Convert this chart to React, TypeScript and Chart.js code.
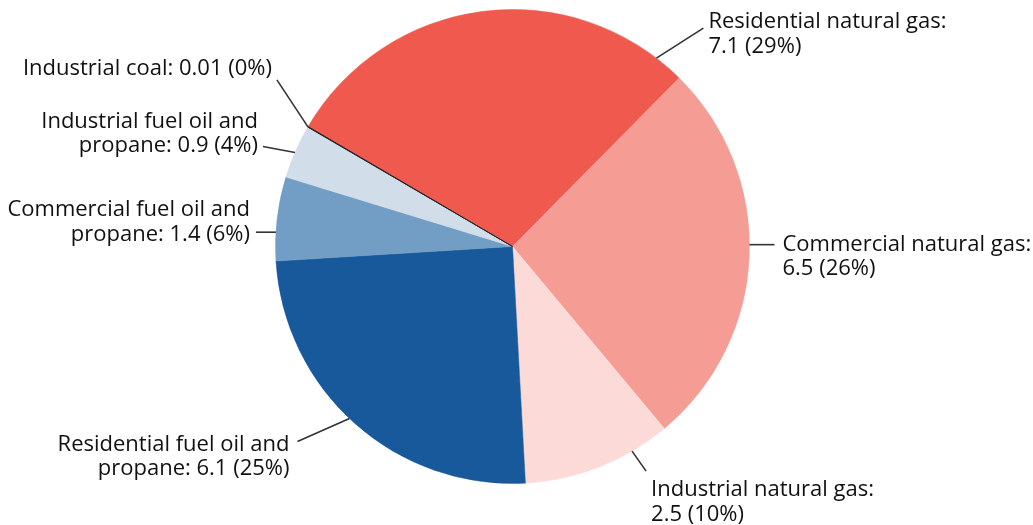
import React, { useEffect, useRef } from "react";
import { Chart, registerables } from "chart.js";

Chart.register(...registerables);

const categories = [
  "Residential natural gas",
  "Commercial natural gas",
  "Industrial natural gas",
  "Residential fuel oil and propane",
  "Commercial fuel oil and propane",
  "Industrial fuel oil and propane",
  "Industrial coal",
];
const values = [7.1, 6.5, 2.5, 6.1, 1.4, 0.9, 0.01];
const labelLines = [
  ["Residential natural gas:", "7.1 (29%)"],
  ["Commercial natural gas:", "6.5 (26%)"],
  ["Industrial natural gas:", "2.5 (10%)"],
  ["Residential fuel oil and", "propane: 6.1 (25%)"],
  ["Commercial fuel oil and", "propane: 1.4 (6%)"],
  ["Industrial fuel oil and", "propane: 0.9 (4%)"],
  ["Industrial coal: 0.01 (0%)"],
];
const colors = ["#F0594E", "#F59D95", "#FBDAD8", "#17599A", "#729EC6", "#D1DEEA", "#222222"];

// label layout: fraction along slice arc, leader vector, text offset from leader end
const labelLayout = [
  { frac: 0.93, dx: 47, dy: -30, tx: 5, ty: -6, align: "left" },
  { frac: 0.47, dx: 25, dy: 0, tx: 8, ty: 0, align: "left" },
  { frac: 0.26, dx: 14, dy: 20, tx: 5, ty: 19, align: "left" },
  { frac: 0.52, dx: -52, dy: 23, tx: -8, ty: 3, align: "right" },
  { frac: 0.34, dx: -20, dy: 0, tx: -6, ty: -22, align: "right" },
  { frac: 0.48, dx: -32, dy: -6, tx: -5, ty: -25, align: "right" },
  { frac: 0.5, dx: -31, dy: -47, tx: -5, ty: -11, align: "right" },
];

const FONT = "22px 'Open Sans'";
const LINE_H = 24.5;

const labelPlugin = {
  id: "outerLabels",
  afterDatasetsDraw(chart: any) {
    const ctx = chart.ctx;
    const meta = chart.getDatasetMeta(0);
    ctx.save();
    meta.data.forEach((arc: any, i: number) => {
      const lay = labelLayout[i];
      const { x, y, startAngle, endAngle, outerRadius } = arc.getProps(
        ["x", "y", "startAngle", "endAngle", "outerRadius"],
        true
      );
      const a = startAngle + (endAngle - startAngle) * lay.frac;
      const sx = x + Math.cos(a) * outerRadius;
      const sy = y + Math.sin(a) * outerRadius;
      const ex = sx + lay.dx;
      const ey = sy + lay.dy;
      ctx.strokeStyle = "#333333";
      ctx.lineWidth = 1.6;
      ctx.beginPath();
      ctx.moveTo(sx, sy);
      ctx.lineTo(ex, ey);
      ctx.stroke();
      ctx.fillStyle = "#111111";
      ctx.font = FONT;
      ctx.textAlign = lay.align;
      ctx.textBaseline = "middle";
      labelLines[i].forEach((t, k) => {
        ctx.fillText(t, ex + lay.tx, ey + lay.ty + k * LINE_H);
      });
    });
    ctx.restore();
  },
};

export default function App() {
  const ref = useRef<HTMLCanvasElement>(null);
  useEffect(() => {
    const chart = new Chart(ref.current!, {
      type: "pie",
      data: {
        labels: categories,
        datasets: [
          {
            data: values,
            backgroundColor: colors,
            borderColor: colors,
            borderWidth: [0.5, 0.5, 0.5, 0.5, 0.5, 0.5, 1],
          },
        ],
      },
      options: {
        responsive: false,
        animation: false,
        rotation: -59.6,
        layout: { padding: { left: 275, right: 283, top: 9, bottom: 41 } },
        plugins: {
          legend: { display: false },
          tooltip: { enabled: false },
        },
      },
      plugins: [labelPlugin],
    });
    return () => chart.destroy();
  }, []);
  return (
    <div style={{ position: "absolute", left: 0, top: 0, width: 1033, height: 525, background: "#fff" }}>
      <canvas ref={ref} width={1033} height={525} />
    </div>
  );
}
